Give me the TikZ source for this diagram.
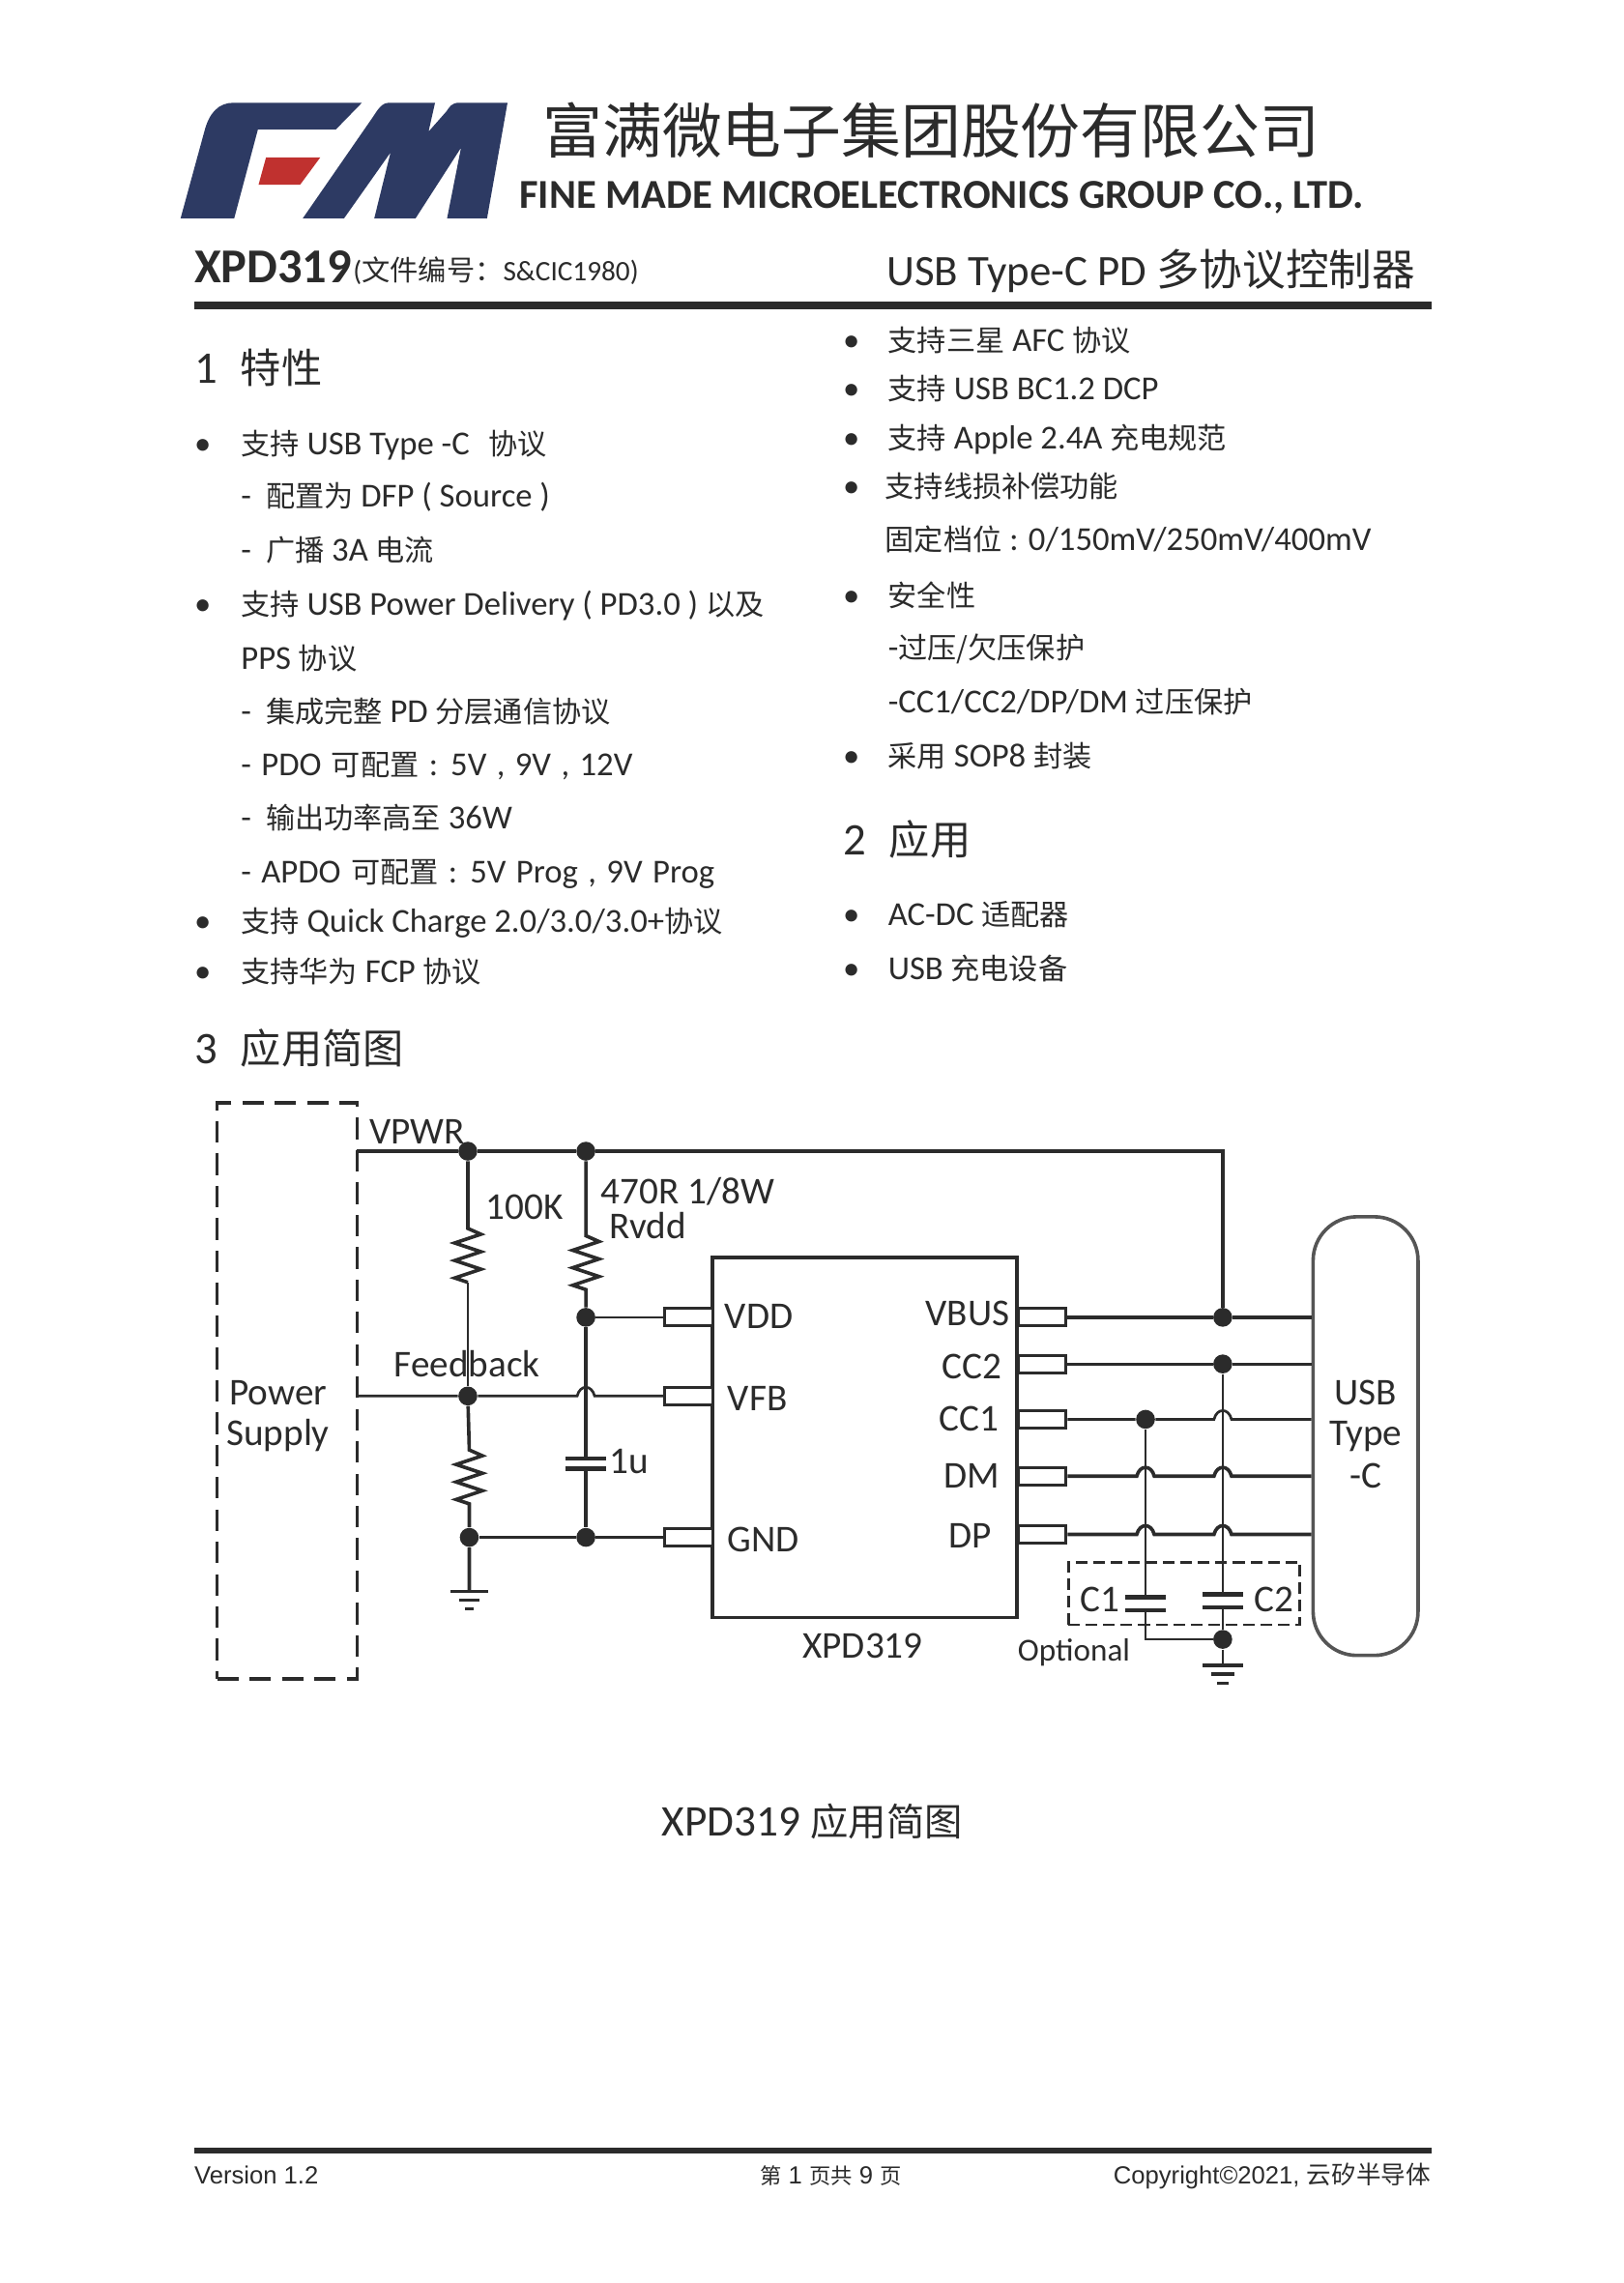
\documentclass[tikz,border=0pt]{standalone}
\usepackage{fontspec}
\setmainfont{Carlito}
\newfontfamily\cjk[Scale=0.87]{Noto Sans CJK SC}
\newfontfamily\cjkbig{Noto Sans CJK SC}
\newfontfamily\arialfont{Liberation Sans}
\usetikzlibrary{positioning}
\definecolor{ink}{HTML}{2B2B2B}
\definecolor{navy}{HTML}{2D3A63}
\definecolor{logored}{HTML}{C0312F}
\definecolor{usbgray}{HTML}{555555}
\newcommand{\zh}[1]{{\cjk #1}}
\newcommand{\zhb}[1]{{\cjkbig #1}}
\newcommand{\fsize}[1]{\fontsize{#1}{#1}\selectfont}
\def\zig{-- ++(9,4) -- ++(-18,6) -- ++(18,6) -- ++(-18,6) -- ++(18,6) -- ++(-18,6) -- ++(9,3)}
\def\hop#1#2{-- (#1-6,#2) .. controls (#1-4,#2-8) and (#1+4,#2-8) .. (#1+6,#2)}
\tikzset{
  body/.style={anchor=base west,inner sep=0pt,text=ink,font=\fsize{11.5}},
  heading/.style={anchor=base west,inner sep=0pt,text=ink,font=\fsize{15.5}},
  lab/.style={inner sep=0pt,text=ink,font=\fsize{13}},
  wire/.style={draw=ink,line width=1.2pt},
  thinwire/.style={draw=ink,line width=0.9pt},
  pinbox/.style={draw=ink,line width=1pt,fill=white,minimum width=16.5pt,minimum height=6pt,inner sep=0pt},
  dashbox/.style={draw=ink,line width=1.2pt,dash pattern=on 7.4pt off 3.7pt},
  dot/.style={circle,fill=ink,minimum size=6.5pt,inner sep=0pt}
}
\begin{document}
\begin{tikzpicture}[x=0.5pt,y=-0.5pt]
\useasboundingbox (0,0) rectangle (1113.7,1566.7);
% logo
\begin{scope}[shift={(119,62.8)},x=0.1115pt,y=-0.1102pt]
\fill[navy] (185,35) -- (580,35) -- (500,118) -- (260,118) -- (187,395) -- (22,395) -- (95,125) .. controls (110,65) and (140,35) .. (185,35) -- cycle;
\fill[navy] (398,395) -- (610,85) .. controls (630,55) and (640,35) .. (665,35) -- (805,35) -- (785,125) -- (840,62) .. controls (850,48) and (855,35) .. (880,35) -- (1028,35) -- (965,395) -- (842,395) -- (885,175) -- (745,395) -- (618,395) -- (668,190) -- (525,395) -- cycle;
\fill[logored] (285,205) -- (452,205) -- (390,290) -- (262,290) -- cycle;
\end{scope}
% header
\node[anchor=base west,inner sep=0pt,text=ink,font=\fsize{20.5}] (company) at (372,105) {\zhb{富满微电子集团股份有限公司}};
\node[anchor=base west,inner sep=0pt,text=ink,font=\fsize{14.1}\bfseries] (companyen) at (356,143) {FINE MADE MICROELECTRONICS GROUP CO., LTD.};
\node[anchor=base west,inner sep=0pt,text=ink,font=\fsize{16.7}\bfseries] (partno) at (133,194) {XPD319};
\node[anchor=base west,inner sep=0pt,text=ink,font=\fsize{9.7}] (docno) at (242,193) {(\zhb{文件编号：}S\&CIC1980)};
\node[anchor=base west,inner sep=0pt,text=ink,font=\fsize{14.9}] (title) at (608,196) {USB Type-C PD \zhb{\fsize{14.8}多协议控制器}};
\fill[ink] (133,207) rectangle (982,212);
% left column
\node[heading] (headone) at (133,263) {1\hspace{8pt}\zhb{\fsize{14}特性}};
\node[body] (bulleta) at (133,312) {•};
\node[body] (linea) at (165,312) {\zh{支持} USB Type -C\hspace{4pt} \zh{协议}};
\node[body] (lineb) at (165,348) {-\hspace{5pt}\zh{配置为} DFP ( Source )};
\node[body] (linec) at (165,385) {-\hspace{5pt}\zh{广播} 3A \zh{电流}};
\node[body] (bulletb) at (133,422) {•};
\node[body] (lined) at (165,422) {\zh{支持} USB Power Delivery ( PD3.0 ) \zh{以及}};
\node[body] (linee) at (165,459) {PPS \zh{协议}};
\node[body] (linef) at (165,496) {-\hspace{5pt}\zh{集成完整} PD \zh{分层通信协议}};
\node[body] (lineg) at (165,532) {\spaceskip=0.3em - PDO \zh{可配置} : 5V , 9V , 12V};
\node[body] (lineh) at (165,569) {-\hspace{5pt}\zh{输出功率高至} 36W};
\node[body] (linei) at (165,606) {\spaceskip=0.3em - APDO \zh{可配置} : 5V Prog , 9V Prog};
\node[body] (bulletc) at (133,640) {•};
\node[body] (linej) at (165,640) {\zh{支持} Quick Charge 2.0/3.0/3.0+\zh{协议}};
\node[body] (bulletd) at (133,674) {•};
\node[body] (linek) at (165,674) {\zh{支持华为} FCP \zh{协议}};
% right column
\node[body] (bullete) at (578,241) {•};
\node[body] (rlinea) at (609,241) {\zh{支持三星} AFC \zh{协议}};
\node[body] (bulletf) at (578,274) {•};
\node[body] (rlineb) at (609,274) {\zh{支持} USB BC1.2 DCP};
\node[body] (bulletg) at (578,308) {•};
\node[body] (rlinec) at (609,308) {\zh{支持} Apple 2.4A \zh{充电规范}};
\node[body] (bulleth) at (578,341) {•};
\node[body] (rlined) at (607,341) {\zh{支持线损补偿功能}};
\node[body] (rlinee) at (607,378) {\zh{固定档位} : 0/150mV/250mV/400mV};
\node[body] (bulleti) at (578,416) {•};
\node[body] (rlinef) at (609,416) {\zh{安全性}};
\node[body] (rlineg) at (609,452) {-\zh{过压/欠压保护}};
\node[body] (rlineh) at (609,489) {-CC1/CC2/DP/DM \zh{过压保护}};
\node[body] (bulletj) at (578,526) {•};
\node[body] (rlinei) at (609,526) {\zh{采用} SOP8 \zh{封装}};
\node[heading] (headtwo) at (578,587) {2\hspace{8pt}\zhb{\fsize{14}应用}};
\node[body] (bulletk) at (578,635) {•};
\node[body] (rlinej) at (609,635) {AC-DC \zh{适配器}};
\node[body] (bulletl) at (578,672) {•};
\node[body] (rlinek) at (609,672) {USB \zh{充电设备}};
\node[heading] (headthree) at (133,730) {3\hspace{8pt}\zhb{\fsize{14}应用简图}};
% blocks of the circuit
\node[dashbox,minimum width=48pt,minimum height=197.5pt,inner sep=0pt] (psu) at (197,954.5) {};
\node[draw=ink,line width=1.3pt,minimum width=104.5pt,minimum height=123.5pt,inner sep=0pt] (chip) at (593.5,986.5) {};
\node[draw=usbgray,line width=1.2pt,rounded corners=15pt,minimum width=36pt,minimum height=150.5pt,inner sep=0pt] (usb) at (937,985.5) {};
\node[dashbox,line width=0.95pt,dash pattern=on 4pt off 2pt,minimum width=79.5pt,minimum height=21.5pt,inner sep=0pt] (optbox) at (812.5,1093.5) {};
\node[pinbox] (pinvdd) at (472.5,904) {};
\node[pinbox] (pinvfb) at (472.5,958) {};
\node[pinbox] (pingnd) at (472.5,1055) {};
\node[pinbox] (pinvbus) at (715,904) {};
\node[pinbox] (pincctwo) at (715,936) {};
\node[pinbox] (pinccone) at (715,974) {};
\node[pinbox] (pindm) at (715,1013) {};
\node[pinbox] (pindp) at (715,1053) {};
% junctions
\coordinate (vpwrstart) at (245,790);
\coordinate (vbustop) at (839,790);
\node[dot] (jra) at (321,790) {};
\node[dot] (jrb) at (402,790) {};
\node[dot] (jvdd) at (402,904) {};
\node[dot] (jfb) at (321,958) {};
\node[dot] (jgnda) at (322,1055) {};
\node[dot] (jgndb) at (402,1055) {};
\node[dot] (jvbus) at (839,904) {};
\node[dot] (jcctwo) at (839,936) {};
\node[dot] (jccone) at (786,974) {};
\node[dot] (jgndc) at (839,1125) {};
\coordinate (gndatop) at (322,1092);
\coordinate (gndctop) at (839,1143);
\coordinate (capin) at (402,1001);
\coordinate (capinb) at (402,1008);
\coordinate (capa) at (786,1096);
\coordinate (capab) at (786,1105);
\coordinate (capc) at (839,1094);
\coordinate (capcb) at (839,1103);
\coordinate (ccorner) at (786,1125);
% wires
\draw[wire] (vpwrstart) -- (jra) -- (jrb) -- (vbustop) -- (jvbus);
\draw[wire] (jra) -- (321,843) \zig coordinate (zigend);
\draw[thinwire] (zigend) -- (jfb);
\draw[wire] (jfb) -- (322,995) \zig -- (jgnda) -- (gndatop);
\draw[wire] (jrb) -- (402,848) \zig -- (jvdd);
\draw[wire] (jvdd) -- (capin);
\draw[wire] (capinb) -- (jgndb);
\draw[thinwire] (jvdd) -- (pinvdd);
\draw[thinwire] (psu.east |- jfb) -- (jfb) \hop{402}{958} -- (pinvfb);
\draw[wire] (jgnda) -- (jgndb) -- (pingnd);
\draw[wire] (pinvbus) -- (jvbus) -- (usb.west |- jvbus);
\draw[thinwire] (pincctwo) -- (jcctwo) -- (usb.west |- jcctwo);
\draw[thinwire] (pinccone) -- (jccone) \hop{839}{974} -- (usb.west |- jccone);
\draw[wire] (pindm) \hop{786}{1013} \hop{839}{1013} -- (usb.west |- pindm);
\draw[wire] (pindp) \hop{786}{1053} \hop{839}{1053} -- (usb.west |- pindp);
\draw[thinwire] (jcctwo) -- (capc);
\draw[thinwire] (capcb) -- (jgndc) -- (gndctop);
\draw[thinwire] (jccone) -- (capa);
\draw[thinwire] (capab) -- (ccorner) -- (jgndc);
% capacitor plates
\draw[wire,line width=1.5pt] (388,1001) -- (416,1001) (388,1008) -- (416,1008);
\draw[wire,line width=1.5pt] (772,1096) -- (800,1096) (772,1105) -- (800,1105);
\draw[wire,line width=1.5pt] (825,1094) -- (853,1094) (825,1103) -- (853,1103);
% grounds
\draw[wire] (309,1092) -- (335,1092) (315,1098) -- (329,1098) (319,1104) -- (325,1104);
\draw[wire] (825,1143) -- (853,1143) (831,1149) -- (847,1149) (835,1155) -- (843,1155);
% labels
\node[lab,anchor=base west] (lvpwr) at (253,785) {VPWR};
\node[lab,anchor=base west] (lrone) at (333,837) {100K};
\node[lab,anchor=base west] (lrvdda) at (412,826) {470R 1/8W};
\node[lab,anchor=base west] (lrvddb) at (418,850) {Rvdd};
\node[lab,anchor=base west] (lfb) at (270,945) {Feedback};
\node[lab,anchor=base west] (lpsua) at (157,964) {Power};
\node[lab,anchor=base west] (lpsub) at (155,992) {Supply};
\node[lab,anchor=base west] (lcap) at (418,1011) {1u};
\node[lab,anchor=base west] (lvdd) at (497,912) {VDD};
\node[lab,anchor=base west] (lvfb) at (499,968) {VFB};
\node[lab,anchor=base west] (lgnd) at (499,1065) {GND};
\node[lab,anchor=base east] (lvbus) at (693,910) {VBUS};
\node[lab,anchor=base east] (lcctwo) at (688,946) {CC2};
\node[lab,anchor=base east] (lccone) at (686,982) {CC1};
\node[lab,anchor=base east] (ldm) at (686,1021) {DM};
\node[lab,anchor=base east] (ldp) at (681,1062) {DP};
\node[lab,anchor=base] (lchip) at (592,1138) {XPD319};
\node[lab,anchor=base west,font=\fsize{11}] (lopt) at (698,1140) {Optional};
\node[lab,anchor=base west] (lcone) at (741,1106) {C1};
\node[lab,anchor=base west] (lctwo) at (860,1106) {C2};
\node[lab,anchor=base] (lusba) at (937,964) {USB};
\node[lab,anchor=base] (lusbb) at (937,992) {Type};
\node[lab,anchor=base] (lusbc) at (937,1021) {-C};
\node[anchor=base,inner sep=0pt,text=ink,font=\fsize{15}] (caption) at (557.5,1260) {XPD319 \zh{应用简图}};
% footer
\fill[ink] (133,1474) rectangle (982,1478);
\node[anchor=base west,inner sep=0pt,text=ink,font=\fsize{8.5}\arialfont] (version) at (133,1499) {Version 1.2};
\node[anchor=base,inner sep=0pt,text=ink,font=\fsize{8.5}\arialfont] (pageno) at (570,1499) {\zh{第} 1 \zh{页共} 9 \zh{页}};
\node[anchor=base east,inner sep=0pt,text=ink,font=\fsize{8.5}\arialfont] (copyright) at (982,1499) {Copyright©2021, \zhb{云矽半导体}};
\end{tikzpicture}
\end{document}
